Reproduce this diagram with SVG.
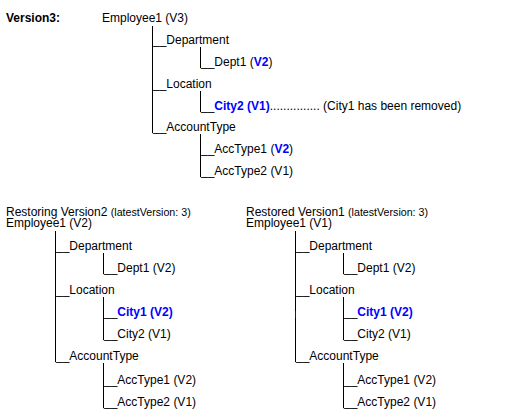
<svg xmlns="http://www.w3.org/2000/svg" width="510" height="420" viewBox="0 0 510 420">
<style>
text{font-family:"Liberation Sans",Arial,sans-serif;font-size:12px;fill:#000}
.b{font-weight:bold}
.hl{font-weight:bold;fill:#0000ff}
.sm{font-size:10.67px}
line{stroke:#000;stroke-width:1}
</style>
<rect width="510" height="420" fill="#fff"/>
<g id="connectors">
<line x1="152.5" y1="26" x2="152.5" y2="133"/>
<line x1="200.5" y1="47" x2="200.5" y2="68"/>
<line x1="200.5" y1="91" x2="200.5" y2="112"/>
<line x1="200.5" y1="134" x2="200.5" y2="177"/>
<line x1="55.5" y1="231" x2="55.5" y2="362"/>
<line x1="103.5" y1="253" x2="103.5" y2="274"/>
<line x1="103.5" y1="297" x2="103.5" y2="340"/>
<line x1="103.5" y1="363" x2="103.5" y2="408"/>
<line x1="295.5" y1="231" x2="295.5" y2="362"/>
<line x1="343.5" y1="253" x2="343.5" y2="274"/>
<line x1="343.5" y1="297" x2="343.5" y2="340"/>
<line x1="343.5" y1="363" x2="343.5" y2="408"/>
<line x1="295.5" y1="311" x2="295.5" y2="318" style="stroke:#0000ff"/>
</g>
<g id="version3">
<text x="6" y="22" class="b">Version3:</text>
</g>
<g id="v3-employee"><text x="102" y="22">Employee1 (V3)</text></g>
<g id="v3-department"><text x="153" y="44">__Department</text></g>
<g id="v3-dept1"><text x="201" y="66">__Dept1 (<tspan class="hl">V2</tspan>)</text></g>
<g id="v3-location"><text x="153" y="88">__Location</text></g>
<g id="v3-city2"><text x="201" y="110">__<tspan class="hl">City2 (V1)</tspan>............... (City1 has been removed)</text></g>
<g id="v3-accounttype"><text x="153" y="131">__AccountType</text></g>
<g id="v3-acctype1"><text x="201" y="153">__AccType1 (<tspan class="hl">V2</tspan>)</text></g>
<g id="v3-acctype2"><text x="201" y="175">__AccType2 (V1)</text></g>

<g id="r2-title"><text x="6" y="216">Restoring Version2 <tspan class="sm">(latestVersion: 3)</tspan></text></g>
<g id="r2-employee"><text x="6" y="227">Employee1 (V2)</text></g>
<g id="r2-department"><text x="56" y="250">__Department</text></g>
<g id="r2-dept1"><text x="104" y="272">__Dept1 (V2)</text></g>
<g id="r2-location"><text x="56" y="294">__Location</text></g>
<g id="r2-city1"><text x="104" y="316">__<tspan class="hl">City1 (V2)</tspan></text></g>
<g id="r2-city2"><text x="104" y="338">__City2 (V1)</text></g>
<g id="r2-accounttype"><text x="56" y="360">__AccountType</text></g>
<g id="r2-acctype1"><text x="104" y="384">__AccType1 (V2)</text></g>
<g id="r2-acctype2"><text x="104" y="406">__AccType2 (V1)</text></g>

<g id="r1-title"><text x="246" y="216">Restored Version1 <tspan class="sm">(latestVersion: 3)</tspan></text></g>
<g id="r1-employee"><text x="246" y="227">Employee1 (V1)</text></g>
<g id="r1-department"><text x="296" y="250">__Department</text></g>
<g id="r1-dept1"><text x="344" y="272">__Dept1 (V2)</text></g>
<g id="r1-location"><text x="296" y="294">__Location</text></g>
<g id="r1-city1"><text x="344" y="316">__<tspan class="hl">City1 (V2)</tspan></text></g>
<g id="r1-city2"><text x="344" y="338">__City2 (V1)</text></g>
<g id="r1-accounttype"><text x="296" y="360">__AccountType</text></g>
<g id="r1-acctype1"><text x="344" y="384">__AccType1 (V2)</text></g>
<g id="r1-acctype2"><text x="344" y="406">__AccType2 (V1)</text></g>
</svg>
